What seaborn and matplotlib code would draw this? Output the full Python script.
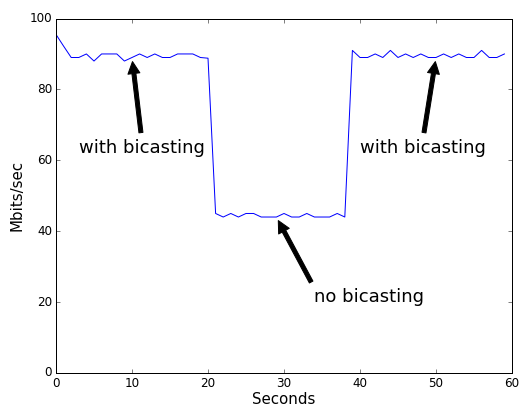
import numpy as np
import pandas as pd
import matplotlib
matplotlib.use('Agg')
import matplotlib.pyplot as plt
import seaborn as sns

# throughput per second
seconds = list(range(60))
mbits = [95.5, 92.2, 89, 89, 90, 88, 90, 90, 90, 88,
         89, 90, 89, 90, 89, 89, 90, 90, 90, 89,
         88.8, 45, 44, 45, 44, 45, 45, 44, 44, 44,
         45, 44, 44, 45, 44, 44, 44, 45, 44, 91,
         89, 89, 90, 89, 91, 89, 90, 89, 90, 89,
         89, 90, 89, 90, 89, 89, 91, 89, 89, 90]

notes = ['with bicasting', 'no bicasting', 'with bicasting']
note_xy = [(10, 89), (29, 44), (50, 89)]
note_text = [(3, 62), (34, 20), (40, 62)]

plt.style.use('classic')
df = pd.DataFrame({'Seconds': seconds, 'Mbits/sec': mbits})

fig = plt.figure(figsize=(520 / 72, 405 / 72), dpi=72, facecolor='white')
ax = fig.add_axes([56 / 520, 32 / 405, 456 / 520, 354.5 / 405])

sns.lineplot(data=df, x='Seconds', y='Mbits/sec', color='b', linewidth=1, ax=ax)

for label, xy, xt in zip(notes, note_xy, note_text):
    ax.annotate(label, xy=xy, xytext=xt, fontsize=18,
                arrowprops=dict(facecolor='black', shrink=0.05))

ax.set_xlim(0, 60)
ax.set_ylim(0, 100)
ax.set_xlabel('Seconds', fontsize=15, labelpad=2)
ax.set_ylabel('Mbits/sec', fontsize=15)

fig.savefig('out.png', dpi=72, facecolor='white')
